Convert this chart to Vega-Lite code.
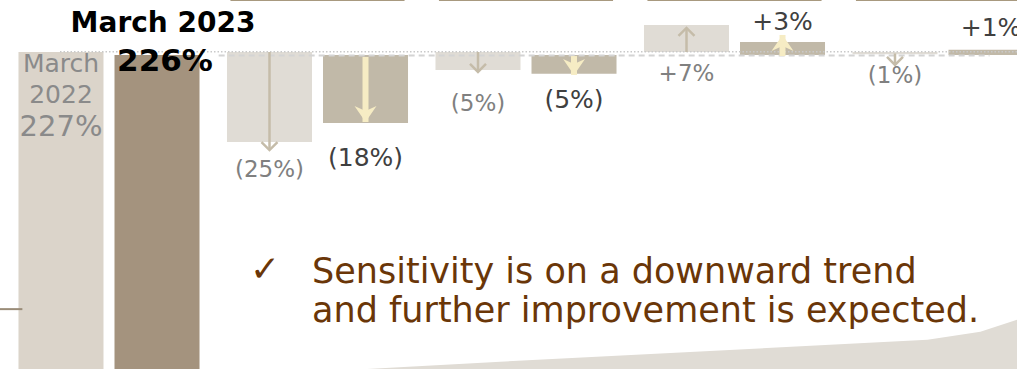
{
  "$schema": "https://vega.github.io/schema/vega-lite/v6.json",
  "width": 1017,
  "height": 369,
  "autosize": "none",
  "padding": 0,
  "background": "white",
  "config": {"view": {"stroke": null}, "axis": {"disable": true}, "font": "DejaVu Sans"},
  "resolve": {"scale": {"x": "independent"}},
  "datasets": {
    "bars": [
      {"group": "g1", "year": "2022", "kind": "base2022", "top": 227.0, "bottom": 141.32},
      {"group": "g1", "year": "2023", "kind": "base2023", "top": 226.2, "bottom": 141.32},
      {"group": "g2", "year": "2022", "kind": "chg2022", "top": 227.0, "bottom": 202.7},
      {"group": "g2", "year": "2023", "kind": "chg2023", "top": 226.2, "bottom": 207.8},
      {"group": "g3", "year": "2022", "kind": "chg2022", "top": 227.0, "bottom": 222.1},
      {"group": "g3", "year": "2023", "kind": "chg2023", "top": 226.2, "bottom": 221.1},
      {"group": "g4", "year": "2022", "kind": "chg2022", "top": 234.3, "bottom": 227.0},
      {"group": "g4", "year": "2023", "kind": "chg2023", "top": 229.7, "bottom": 226.2},
      {"group": "g5", "year": "2022", "kind": "chg2022", "top": 227.0, "bottom": 226.4},
      {"group": "g5", "year": "2023", "kind": "chg2023", "top": 227.6, "bottom": 226.2}
    ],
    "headers": [
      {"group": "g2", "top": 241.1, "bottom": 240.8},
      {"group": "g3", "top": 241.1, "bottom": 240.8},
      {"group": "g4", "top": 241.1, "bottom": 240.8},
      {"group": "g5", "top": 241.1, "bottom": 240.8}
    ],
    "arrows": [
      {"group": "g2", "year": "2022", "style": "light", "dir": "down", "start": 227.0, "tip": 200.5},
      {"group": "g3", "year": "2022", "style": "light", "dir": "down", "start": 227.0, "tip": 221.6},
      {"group": "g4", "year": "2022", "style": "light", "dir": "up", "start": 227.0, "tip": 233.5},
      {"group": "g5", "year": "2022", "style": "light", "dir": "down", "start": 226.6, "tip": 223.5},
      {"group": "g2", "year": "2023", "style": "yellow", "dir": "down", "start": 225.64, "tip": 208.08},
      {"group": "g3", "year": "2023", "style": "yellow", "dir": "down", "start": 225.9, "tip": 220.8},
      {"group": "g4", "year": "2023", "style": "yellow", "dir": "up", "start": 225.9, "tip": 231.6}
    ],
    "labels": [
      {"group": "g2", "year": "2022", "label": "(25%)", "pos": 195.1},
      {"group": "g2", "year": "2023", "label": "(18%)", "pos": 198.4},
      {"group": "g3", "year": "2022", "label": "(5%)", "pos": 213.0},
      {"group": "g3", "year": "2023", "label": "(5%)", "pos": 214.0},
      {"group": "g4", "year": "2022", "label": "+7%", "pos": 221.05},
      {"group": "g4", "year": "2023", "label": "+3%", "pos": 235.1},
      {"group": "g5", "year": "2022", "label": "(1%)", "pos": 220.5},
      {"group": "g5", "year": "2023", "label": "+1%", "pos": 233.5}
    ],
    "deco": [
      {"px": 36.1, "h": 141.32},
      {"px": 49.2, "h": 143.3},
      {"px": 91.2, "h": 149.2},
      {"px": 96.4, "h": 151.4},
      {"px": 100, "h": 154.6}
    ],
    "reflines": [
      {"kind": "dotted", "x0": 5.9, "x1": 100, "v": 227.05},
      {"kind": "dashed", "x0": 21.5, "x1": 97.3, "v": 226.05},
      {"kind": "stub", "x0": 0, "x1": 2.2, "v": 157.5}
    ]
  },
  "layer": [
    {
      "data": {"name": "deco"},
      "mark": {"type": "area", "color": "#e0dcd5"},
      "encoding": {
        "x": {"field": "px", "type": "quantitative", "scale": {"domain": [0, 100], "nice": false, "zero": false}},
        "y": {"field": "h", "type": "quantitative", "scale": {"domain": [141.32, 241.05], "nice": false, "zero": false}},
        "y2": {"datum": 141.32}
      }
    },
    {
      "data": {"name": "bars"},
      "mark": {"type": "bar", "cornerRadius": 0},
      "encoding": {
        "x": {"field": "group", "type": "nominal", "scale": {"range": [4.75, 1047.25], "paddingInner": 0, "paddingOuter": 0}},
        "xOffset": {"field": "year", "type": "nominal", "scale": {"paddingInner": 0.1146, "paddingOuter": 0.143}},
        "y": {"field": "top", "type": "quantitative", "scale": {"domain": [141.32, 241.05], "nice": false, "zero": false}},
        "y2": {"field": "bottom"},
        "color": {"field": "kind", "type": "nominal", "legend": null,
          "scale": {"domain": ["base2022", "base2023", "chg2022", "chg2023"], "range": ["#dbd4ca", "#a4937e", "#e0dcd5", "#c1b9a8"]}}
      }
    },
    {
      "data": {"name": "headers"},
      "mark": {"type": "bar", "color": "#a8997f", "width": {"band": 0.835}},
      "encoding": {
        "x": {"field": "group", "type": "nominal", "scale": {"domain": ["g1", "g2", "g3", "g4", "g5"], "range": [4.75, 1047.25], "paddingInner": 0, "paddingOuter": 0}},
        "y": {"field": "top", "type": "quantitative", "scale": {"domain": [141.32, 241.05], "nice": false, "zero": false}},
        "y2": {"field": "bottom"}
      }
    },
    {
      "data": {"name": "reflines"},
      "transform": [{"filter": "datum.kind == 'dotted'"}],
      "mark": {"type": "rule", "color": "#c9c9c9", "strokeWidth": 1.5, "strokeDash": [1.5, 2]},
      "encoding": {
        "x": {"field": "x0", "type": "quantitative", "scale": {"domain": [0, 100], "nice": false, "zero": false}},
        "x2": {"field": "x1"},
        "y": {"field": "v", "type": "quantitative", "scale": {"domain": [141.32, 241.05], "nice": false, "zero": false}}
      }
    },
    {
      "data": {"name": "reflines"},
      "transform": [{"filter": "datum.kind == 'dashed'"}],
      "mark": {"type": "rule", "color": "#d4d4d4", "strokeWidth": 2, "strokeDash": [6, 4]},
      "encoding": {
        "x": {"field": "x0", "type": "quantitative", "scale": {"domain": [0, 100], "nice": false, "zero": false}},
        "x2": {"field": "x1"},
        "y": {"field": "v", "type": "quantitative", "scale": {"domain": [141.32, 241.05], "nice": false, "zero": false}}
      }
    },
    {
      "data": {"name": "reflines"},
      "transform": [{"filter": "datum.kind == 'stub'"}],
      "mark": {"type": "rule", "color": "#9a8c78", "strokeWidth": 2},
      "encoding": {
        "x": {"field": "x0", "type": "quantitative", "scale": {"domain": [0, 100], "nice": false, "zero": false}},
        "x2": {"field": "x1"},
        "y": {"field": "v", "type": "quantitative", "scale": {"domain": [141.32, 241.05], "nice": false, "zero": false}}
      }
    },
    {
      "data": {"name": "arrows"},
      "transform": [{"filter": "datum.style == 'light'"}],
      "mark": {"type": "rule", "color": "#c5bca9", "strokeWidth": 2.5},
      "encoding": {
        "x": {"field": "group", "type": "nominal", "scale": {"domain": ["g1", "g2", "g3", "g4", "g5"], "range": [4.75, 1047.25], "paddingInner": 0, "paddingOuter": 0}},
        "xOffset": {"field": "year", "type": "nominal", "scale": {"domain": ["2022", "2023"], "paddingInner": 0.1146, "paddingOuter": 0.143}},
        "y": {"field": "start", "type": "quantitative", "scale": {"domain": [141.32, 241.05], "nice": false, "zero": false}},
        "y2": {"field": "tip"}
      }
    },
    {
      "data": {"name": "arrows"},
      "transform": [{"filter": "datum.style == 'light' && datum.dir == 'down'"}],
      "mark": {"type": "point", "shape": "M-1,-1L0,0L1,-1", "filled": false, "color": "#c5bca9", "strokeWidth": 2.5, "size": 256, "opacity": 1},
      "encoding": {
        "x": {"field": "group", "type": "nominal", "scale": {"domain": ["g1", "g2", "g3", "g4", "g5"], "range": [4.75, 1047.25], "paddingInner": 0, "paddingOuter": 0}},
        "xOffset": {"field": "year", "type": "nominal", "scale": {"domain": ["2022", "2023"], "paddingInner": 0.1146, "paddingOuter": 0.143}},
        "y": {"field": "tip", "type": "quantitative", "scale": {"domain": [141.32, 241.05], "nice": false, "zero": false}}
      }
    },
    {
      "data": {"name": "arrows"},
      "transform": [{"filter": "datum.style == 'light' && datum.dir == 'up'"}],
      "mark": {"type": "point", "shape": "M-1,1L0,0L1,1", "filled": false, "color": "#c5bca9", "strokeWidth": 2.5, "size": 256, "opacity": 1},
      "encoding": {
        "x": {"field": "group", "type": "nominal", "scale": {"domain": ["g1", "g2", "g3", "g4", "g5"], "range": [4.75, 1047.25], "paddingInner": 0, "paddingOuter": 0}},
        "xOffset": {"field": "year", "type": "nominal", "scale": {"domain": ["2022", "2023"], "paddingInner": 0.1146, "paddingOuter": 0.143}},
        "y": {"field": "tip", "type": "quantitative", "scale": {"domain": [141.32, 241.05], "nice": false, "zero": false}}
      }
    },
    {
      "data": {"name": "arrows"},
      "transform": [{"filter": "datum.style == 'yellow'"}],
      "mark": {"type": "rule", "color": "#f6ecc4", "strokeWidth": 6},
      "encoding": {
        "x": {"field": "group", "type": "nominal", "scale": {"domain": ["g1", "g2", "g3", "g4", "g5"], "range": [4.75, 1047.25], "paddingInner": 0, "paddingOuter": 0}},
        "xOffset": {"field": "year", "type": "nominal", "scale": {"domain": ["2022", "2023"], "paddingInner": 0.1146, "paddingOuter": 0.143}},
        "y": {"field": "start", "type": "quantitative", "scale": {"domain": [141.32, 241.05], "nice": false, "zero": false}},
        "y2": {"field": "tip"}
      }
    },
    {
      "data": {"name": "arrows"},
      "transform": [{"filter": "datum.style == 'yellow' && datum.dir == 'down'"}],
      "mark": {"type": "point", "shape": "M0,0L-1,-1.45L0,-1.0L1,-1.45Z", "filled": true, "color": "#f6ecc4", "size": 484, "opacity": 1},
      "encoding": {
        "x": {"field": "group", "type": "nominal", "scale": {"domain": ["g1", "g2", "g3", "g4", "g5"], "range": [4.75, 1047.25], "paddingInner": 0, "paddingOuter": 0}},
        "xOffset": {"field": "year", "type": "nominal", "scale": {"domain": ["2022", "2023"], "paddingInner": 0.1146, "paddingOuter": 0.143}},
        "y": {"field": "tip", "type": "quantitative", "scale": {"domain": [141.32, 241.05], "nice": false, "zero": false}}
      }
    },
    {
      "data": {"name": "arrows"},
      "transform": [{"filter": "datum.style == 'yellow' && datum.dir == 'up'"}],
      "mark": {"type": "point", "shape": "M0,0L-1,1.45L0,1.0L1,1.45Z", "filled": true, "color": "#f6ecc4", "size": 484, "opacity": 1},
      "encoding": {
        "x": {"field": "group", "type": "nominal", "scale": {"domain": ["g1", "g2", "g3", "g4", "g5"], "range": [4.75, 1047.25], "paddingInner": 0, "paddingOuter": 0}},
        "xOffset": {"field": "year", "type": "nominal", "scale": {"domain": ["2022", "2023"], "paddingInner": 0.1146, "paddingOuter": 0.143}},
        "y": {"field": "tip", "type": "quantitative", "scale": {"domain": [141.32, 241.05], "nice": false, "zero": false}}
      }
    },
    {
      "data": {"name": "labels"},
      "mark": {"type": "text", "baseline": "middle", "align": "center"},
      "encoding": {
        "x": {"field": "group", "type": "nominal", "scale": {"domain": ["g1", "g2", "g3", "g4", "g5"], "range": [4.75, 1047.25], "paddingInner": 0, "paddingOuter": 0}},
        "xOffset": {"field": "year", "type": "nominal", "scale": {"domain": ["2022", "2023"], "paddingInner": 0.1146, "paddingOuter": 0.143}},
        "y": {"field": "pos", "type": "quantitative", "scale": {"domain": [141.32, 241.05], "nice": false, "zero": false}},
        "text": {"field": "label"},
        "color": {"condition": {"test": "datum.year == '2022'", "value": "#808080"}, "value": "#404040"},
        "size": {"condition": {"test": "datum.year == '2022'", "value": 23}, "value": 25}
      }
    },
    {
      "data": {"values": [
        {"group": "g1", "year": "2022", "t": "March", "pos": 223.75},
        {"group": "g1", "year": "2022", "t": "2022", "pos": 215.4}
      ]},
      "mark": {"type": "text", "baseline": "middle", "align": "center", "fontSize": 25, "color": "#8a8a8a"},
      "encoding": {
        "x": {"field": "group", "type": "nominal", "scale": {"domain": ["g1", "g2", "g3", "g4", "g5"], "range": [4.75, 1047.25], "paddingInner": 0, "paddingOuter": 0}},
        "xOffset": {"field": "year", "type": "nominal", "scale": {"domain": ["2022", "2023"], "paddingInner": 0.1146, "paddingOuter": 0.143}},
        "y": {"field": "pos", "type": "quantitative", "scale": {"domain": [141.32, 241.05], "nice": false, "zero": false}},
        "text": {"field": "t"}
      }
    },
    {
      "data": {"values": [
        {"group": "g1", "year": "2022", "t": "227%", "pos": 206.7}
      ]},
      "mark": {"type": "text", "baseline": "middle", "align": "center", "fontSize": 29, "color": "#8a8a8a"},
      "encoding": {
        "x": {"field": "group", "type": "nominal", "scale": {"domain": ["g1", "g2", "g3", "g4", "g5"], "range": [4.75, 1047.25], "paddingInner": 0, "paddingOuter": 0}},
        "xOffset": {"field": "year", "type": "nominal", "scale": {"domain": ["2022", "2023"], "paddingInner": 0.1146, "paddingOuter": 0.143}},
        "y": {"field": "pos", "type": "quantitative", "scale": {"domain": [141.32, 241.05], "nice": false, "zero": false}},
        "text": {"field": "t"}
      }
    },
    {
      "data": {"values": [
        {"group": "g1", "year": "2023", "t": "March 2023", "pos": 234.6}
      ]},
      "mark": {"type": "text", "baseline": "middle", "align": "center", "fontSize": 28, "fontWeight": "bold", "color": "#000000", "dx": 6},
      "encoding": {
        "x": {"field": "group", "type": "nominal", "scale": {"domain": ["g1", "g2", "g3", "g4", "g5"], "range": [4.75, 1047.25], "paddingInner": 0, "paddingOuter": 0}},
        "xOffset": {"field": "year", "type": "nominal", "scale": {"domain": ["2022", "2023"], "paddingInner": 0.1146, "paddingOuter": 0.143}},
        "y": {"field": "pos", "type": "quantitative", "scale": {"domain": [141.32, 241.05], "nice": false, "zero": false}},
        "text": {"field": "t"}
      }
    },
    {
      "data": {"values": [
        {"group": "g1", "year": "2023", "t": "226%", "pos": 224.3}
      ]},
      "mark": {"type": "text", "baseline": "middle", "align": "center", "fontSize": 31, "fontWeight": "bold", "color": "#000000", "dx": 8},
      "encoding": {
        "x": {"field": "group", "type": "nominal", "scale": {"domain": ["g1", "g2", "g3", "g4", "g5"], "range": [4.75, 1047.25], "paddingInner": 0, "paddingOuter": 0}},
        "xOffset": {"field": "year", "type": "nominal", "scale": {"domain": ["2022", "2023"], "paddingInner": 0.1146, "paddingOuter": 0.143}},
        "y": {"field": "pos", "type": "quantitative", "scale": {"domain": [141.32, 241.05], "nice": false, "zero": false}},
        "text": {"field": "t"}
      }
    },
    {
      "data": {"values": [
        {"px": 26.06, "pos": 165.2, "t": "✓"}
      ]},
      "mark": {"type": "text", "baseline": "alphabetic", "align": "center", "fontSize": 36, "color": "#6a3608"},
      "encoding": {
        "x": {"field": "px", "type": "quantitative", "scale": {"domain": [0, 100], "nice": false, "zero": false}},
        "y": {"field": "pos", "type": "quantitative", "scale": {"domain": [141.32, 241.05], "nice": false, "zero": false}},
        "text": {"field": "t"}
      }
    },
    {
      "data": {"values": [
        {"px": 30.68, "pos": 164.56, "t": "Sensitivity is on a downward trend"},
        {"px": 30.68, "pos": 154.0, "t": "and further improvement is expected."}
      ]},
      "mark": {"type": "text", "baseline": "alphabetic", "align": "left", "fontSize": 35, "color": "#6a3608"},
      "encoding": {
        "x": {"field": "px", "type": "quantitative", "scale": {"domain": [0, 100], "nice": false, "zero": false}},
        "y": {"field": "pos", "type": "quantitative", "scale": {"domain": [141.32, 241.05], "nice": false, "zero": false}},
        "text": {"field": "t"}
      }
    }
  ]
}
